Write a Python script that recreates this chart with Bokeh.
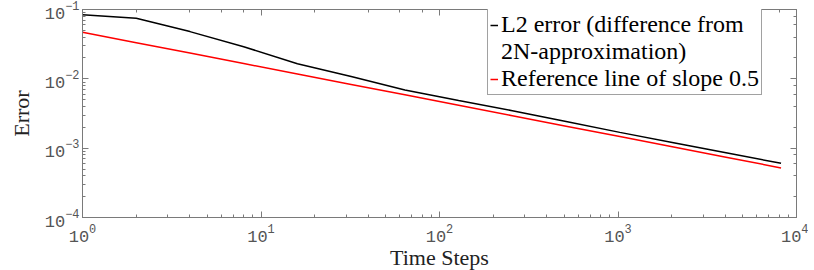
from bokeh.plotting import figure
from bokeh.models import LogAxis, Legend, LegendItem, Range1d
from bokeh.embed import file_html
from bokeh.resources import INLINE

steps = [1, 2, 4, 8, 16, 32, 64, 128, 256, 512, 1024, 2048, 4096, 8192]
l2_error = [0.0838, 0.075, 0.048, 0.029, 0.0165, 0.0108, 0.0069, 0.00486,
            0.00347, 0.00243, 0.00169, 0.0012, 0.00085, 0.000605]
ref_line = [0.047, 0.0332, 0.0235, 0.0166, 0.01175, 0.00831, 0.005875, 0.004154,
            0.002938, 0.002077, 0.001469, 0.001039, 0.000734, 0.000519]
legend_lines = ["L2 error (difference from", "2N-approximation)",
                "Reference line of slope 0.5"]

p = figure(frame_width=714, frame_height=208, x_axis_type="log", y_axis_type="log",
           x_range=Range1d(1, 1e4), y_range=Range1d(1e-4, 1e-1),
           output_backend="svg", toolbar_location=None,
           min_border_left=82, min_border_right=12, min_border_top=9,
           min_border_bottom=40)
p.grid.visible = False
p.outline_line_color = None
p.background_fill_color = "white"
p.border_fill_color = "white"

r1 = p.line(steps, l2_error, line_color="black", line_width=1.5)
r2 = p.line(steps, ref_line, line_color="red", line_width=1.5)
r_blank = p.line([], [], line_alpha=0)

axis_color = "#7a7a7a"
for ax in [p.xaxis[0], p.yaxis[0]]:
    ax.axis_line_color = axis_color
    ax.major_tick_line_color = axis_color
    ax.minor_tick_line_color = axis_color
    ax.major_tick_in = 6
    ax.major_tick_out = 0
    ax.minor_tick_in = 3
    ax.minor_tick_out = 0
    ax.major_label_text_font = "Liberation Mono"
    ax.major_label_text_font_size = "17px"
    ax.major_label_text_color = "#555555"
    ax.axis_label_text_font = "Liberation Serif"
    ax.axis_label_text_font_style = "normal"
    ax.axis_label_text_font_size = "22px"
    ax.axis_label_text_color = "#222222"

p.xaxis.axis_label = "Time Steps"
p.yaxis.axis_label = "Error"
p.xaxis.axis_label_standoff = 0
p.yaxis.axis_label_standoff = 8
p.xaxis.major_label_standoff = 6
p.yaxis.major_label_standoff = 3

for loc in ["above", "right"]:
    ax = LogAxis(axis_line_color=axis_color, major_tick_line_color=axis_color,
                 minor_tick_line_color=axis_color, major_tick_in=6, major_tick_out=0,
                 minor_tick_in=3, minor_tick_out=0, major_label_text_font_size="1px",
                 major_label_text_color=None, major_label_standoff=0)
    p.add_layout(ax, loc)

legend = Legend(items=[LegendItem(label=legend_lines[0], renderers=[r1]),
                       LegendItem(label=legend_lines[1], renderers=[r_blank]),
                       LegendItem(label=legend_lines[2], renderers=[r2])],
                location=(405, 122))
legend.label_text_font = "Liberation Serif"
legend.label_text_font_size = "24px"
legend.label_text_color = "black"
legend.border_line_color = "#444444"
legend.border_line_width = 1
legend.padding = 2
legend.spacing = 0
legend.margin = 0
legend.glyph_width = 8
legend.glyph_height = 16
legend.label_height = 16
legend.label_standoff = 3
legend.background_fill_alpha = 1
p.add_layout(legend, "center")

open("out.html", "w").write(file_html(p, INLINE))
